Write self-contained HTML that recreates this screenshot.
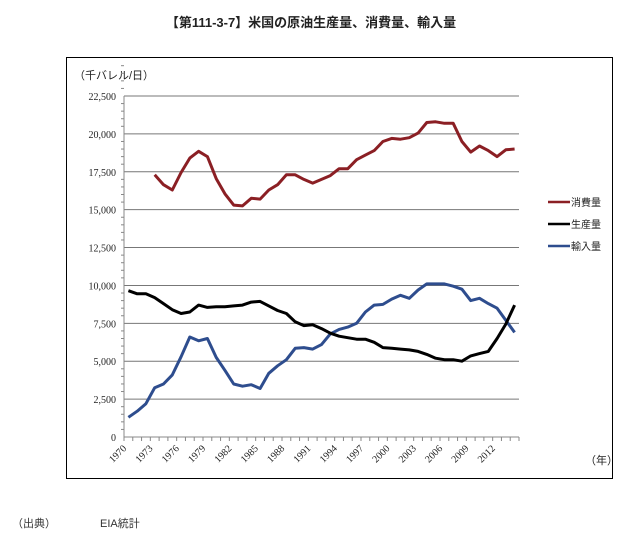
<!DOCTYPE html>
<html><head><meta charset="utf-8"><style>
body{margin:0;background:#fff;width:622px;height:543px;overflow:hidden;font-family:"Liberation Serif","Noto Serif CJK SC",serif}
</style></head><body>
<svg id="s" width="622" height="543" xmlns="http://www.w3.org/2000/svg" font-family="Liberation Serif, Noto Sans CJK JP, serif">
<text x="311" y="27" text-anchor="middle" font-size="13" font-weight="bold" font-family="Liberation Sans, Noto Sans CJK JP, sans-serif" fill="#222">【第111-3-7】米国の原油生産量、消費量、輸入量</text>
<rect x="66.5" y="57.5" width="546" height="421" fill="none" stroke="#000" stroke-width="1"/>
<text x="74" y="79" font-size="11" font-family="Liberation Sans, Noto Sans CJK JP, sans-serif" fill="#222">（千バレル/日）</text>
<g id="grid"></g>
<g id="lines" fill="none" stroke-width="3" stroke-linejoin="round"></g>
<g font-size="10" font-family="Liberation Sans, Noto Sans CJK JP, sans-serif" fill="#222">
<line x1="548" y1="202" x2="570" y2="202" stroke="#8b1f24" stroke-width="2.5"/><text x="571" y="206">消費量</text>
<line x1="548" y1="224" x2="570" y2="224" stroke="#000" stroke-width="2.5"/><text x="571" y="228">生産量</text>
<line x1="548" y1="246" x2="570" y2="246" stroke="#2e4d8e" stroke-width="2.5"/><text x="571" y="250">輸入量</text>
<text x="585" y="464" font-size="11">（年）</text>
</g>
<text x="12" y="527" font-size="11" font-family="Liberation Sans, Noto Sans CJK JP, sans-serif" fill="#333">（出典）</text>
<text x="100" y="527" font-size="11" font-family="Liberation Sans, Noto Sans CJK JP, sans-serif" fill="#333">EIA統計</text>
</svg>
<script>
var NS="http://www.w3.org/2000/svg";
function el(p,t,a,tx){var e=document.createElementNS(NS,t);for(var k in a)e.setAttribute(k,a[k]);if(tx!=null)e.textContent=tx;p.appendChild(e);return e;}
var g=document.getElementById('grid');
var x0=124,x1=519,y0=437,ppu=(437-96)/22500;
function Y(v){return y0-v*ppu;}
for(var i=0;i<=9;i++){var v=i*2500,y=Y(v);
 if(i>0)el(g,'line',{x1:x0,x2:x1,y1:y,y2:y,stroke:'#777','stroke-width':1});
 el(g,'text',{x:x0-8,y:y+4,'text-anchor':'end','font-size':10,fill:'#222'},v.toLocaleString('en-US'));}
for(var i=1;i<50;i++){if(i%5==0)continue;var y=Y(i*500);el(g,'line',{x1:x0-3,x2:x0,y1:y,y2:y,stroke:'#888'});}
el(g,'line',{x1:x0,x2:x0,y1:96,y2:y0,stroke:'#888'});
el(g,'line',{x1:x0,x2:x1,y1:y0,y2:y0,stroke:'#888'});
var step=(x1-x0)/45;
for(var k=0;k<=45;k++){var x=x0+k*step;el(g,'line',{x1:x,x2:x,y1:y0,y2:y0+4,stroke:'#888'});
 if(k%3==0&&k<45){var yr=1970+k;el(g,'text',{x:x+3,y:y0+12,'text-anchor':'end','font-size':10,fill:'#222',transform:'rotate(-45 '+(x+3)+' '+(y0+12)+')'},yr);}}
var cons=[17300,16650,16300,17450,18400,18850,18500,17050,16050,15300,15250,15750,15700,16300,16650,17300,17300,17000,16750,17000,17250,17700,17700,18300,18600,18900,19500,19700,19650,19750,20050,20750,20800,20700,20700,19500,18800,19200,18900,18500,18950,19000];
var prod=[9650,9450,9450,9200,8800,8400,8150,8250,8700,8550,8600,8600,8650,8700,8900,8950,8650,8350,8150,7600,7350,7400,7150,6850,6650,6550,6450,6450,6250,5900,5850,5800,5750,5650,5450,5200,5100,5100,5000,5350,5500,5650,6500,7450,8700];
var imp=[1300,1700,2200,3250,3500,4100,5300,6600,6350,6500,5250,4400,3500,3350,3450,3200,4200,4700,5100,5850,5900,5800,6100,6800,7100,7250,7500,8250,8700,8750,9100,9350,9150,9700,10100,10100,10100,9950,9750,9000,9150,8800,8500,7700,6900];
var L=document.getElementById('lines');
function line(d,start,col){var p=[];for(var i=0;i<d.length;i++){p.push((x0+(start+i+0.5)*step).toFixed(1)+','+Y(d[i]).toFixed(1));}el(L,'polyline',{points:p.join(' '),stroke:col});}
line(cons,3,'#8b1f24');line(imp,0,'#2e4d8e');line(prod,0,'#000');
</script>
</body></html>
